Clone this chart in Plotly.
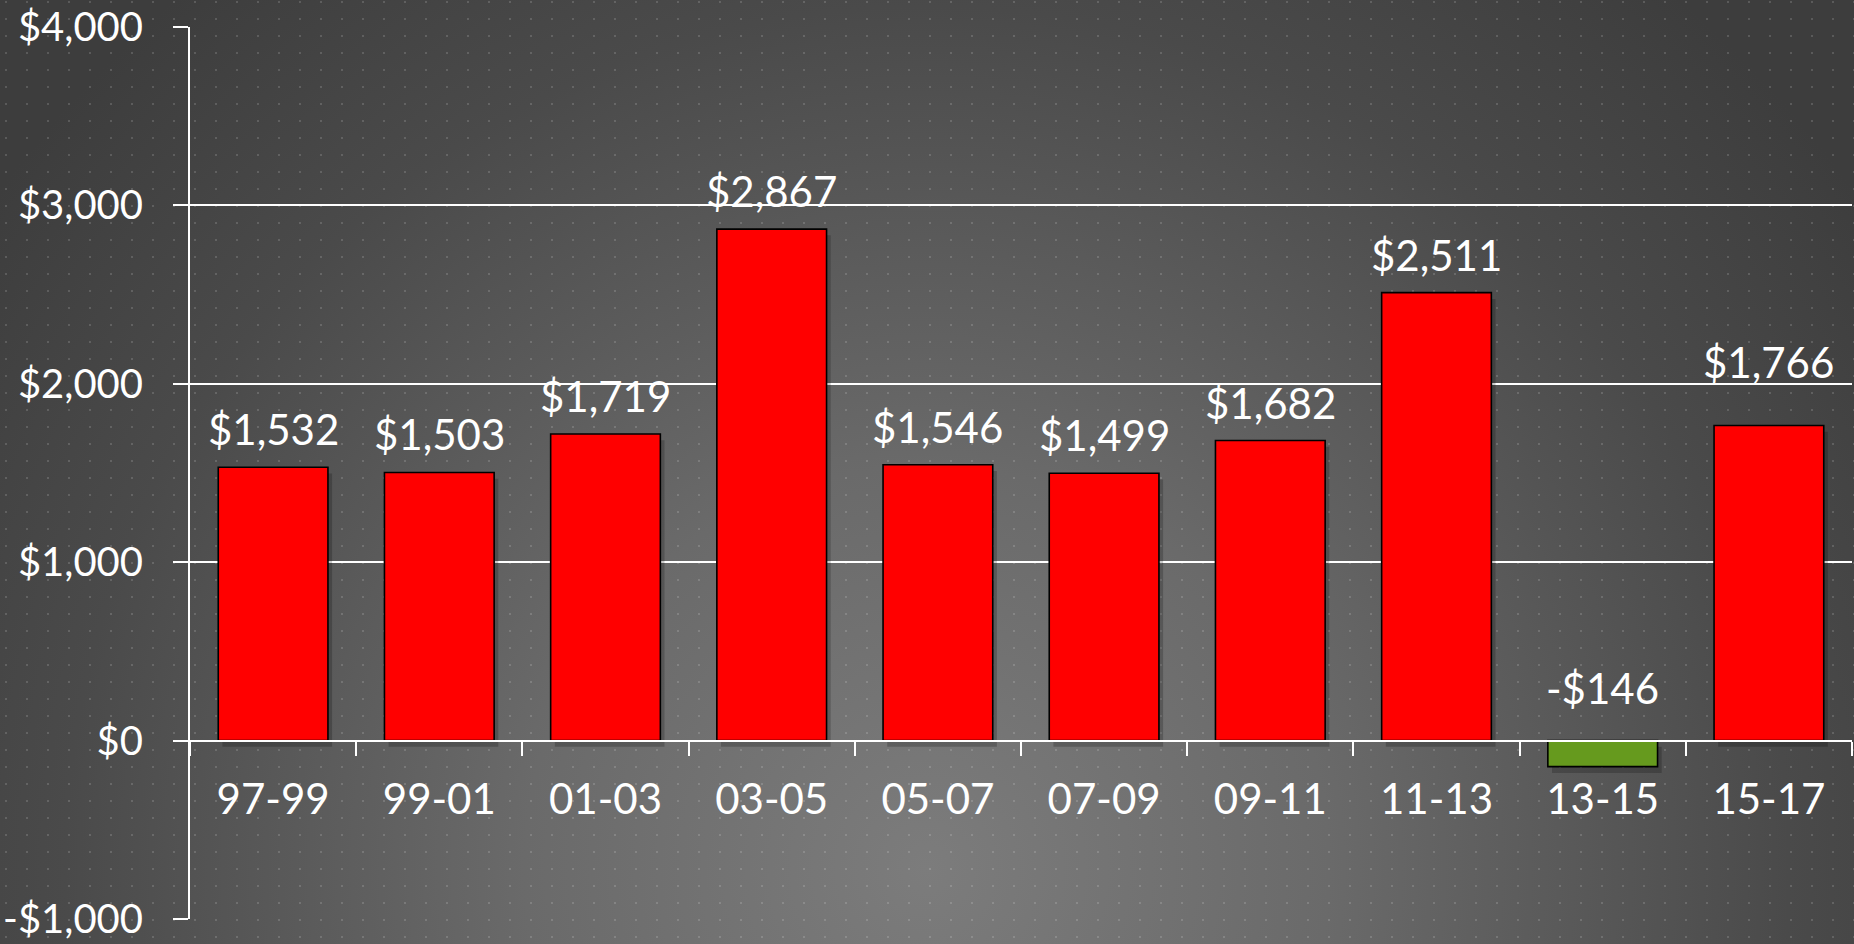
import base64
import plotly.graph_objects as go

# ---- data ----
periods = ["97-99", "99-01", "01-03", "03-05", "05-07", "07-09", "09-11", "11-13", "13-15", "15-17"]
values = [1532, 1503, 1719, 2867, 1546, 1499, 1682, 2511, -146, 1766]
value_labels = ["$1,532", "$1,503", "$1,719", "$2,867", "$1,546", "$1,499", "$1,682", "$2,511", "-$146", "$1,766"]
y_tick_vals = [-1000, 0, 1000, 2000, 3000, 4000]
y_tick_text = ["-$1,000", "$0", "$1,000", "$2,000", "$3,000", "$4,000"]

# ---- style ----
W, H = 1854, 944
ML, MR, MT, MB = 190, 2, 27, 25
FONT = "Gill Sans, Gill Sans MT, Lato, sans-serif"
label_shift = [38, 38, 38, 38, 38, 38, 38, 38, 53, 64]   # px above bar top / zero line
bar_colors = ["#ff0000" if v >= 0 else "#669a1e" for v in values]

svg = f"""<svg xmlns='http://www.w3.org/2000/svg' width='{W}' height='{H}'>
<defs>
<radialGradient id='g' gradientUnits='userSpaceOnUse' cx='{W*0.5}' cy='{H*0.92}' r='{W*0.62}'>
<stop offset='0' stop-color='#7c7c7c'/>
<stop offset='0.35' stop-color='#6a6a6a'/>
<stop offset='0.75' stop-color='#4a4a4a'/>
<stop offset='1' stop-color='#3d3d3d'/>
</radialGradient>
<pattern id='p' x='5' y='1' width='21' height='17' patternUnits='userSpaceOnUse'>
<rect x='0' y='0' width='2' height='2' fill='#ffffff' fill-opacity='0.15'/>
</pattern>
</defs>
<rect width='{W}' height='{H}' fill='url(#g)'/>
<rect width='{W}' height='{H}' fill='url(#p)'/>
</svg>"""
src = "data:image/svg+xml;base64," + base64.b64encode(svg.encode()).decode()

pw, ph = W - ML - MR, H - MT - MB

fig = go.Figure()
# soft drop shadow
fig.add_trace(go.Bar(
    x=periods, y=values, base=[-35] * len(values), width=0.66, offset=-0.33 + 0.025,
    marker=dict(color="rgba(0,0,0,0.2)", line=dict(width=0)),
    hoverinfo="skip", showlegend=False))
fig.add_trace(go.Bar(
    x=periods, y=values, width=0.66, offset=-0.33,
    marker=dict(color=bar_colors, line=dict(color="#000000", width=1.6)),
    showlegend=False))

for p, v, t, s in zip(periods, values, value_labels, label_shift):
    fig.add_annotation(x=p, y=max(v, 0), text=t, showarrow=False,
                       yanchor="middle", xanchor="center", yshift=s,
                       font=dict(family=FONT, size=42, color="#ffffff"))

fig.update_layout(
    width=W, height=H,
    margin=dict(l=ML, r=MR, t=MT, b=MB, autoexpand=False),
    paper_bgcolor="#444444",
    plot_bgcolor="rgba(0,0,0,0)",
    barmode="overlay",
    font=dict(family=FONT, size=42, color="#ffffff"),
    images=[dict(source=src, xref="paper", yref="paper",
                 x=-ML / pw, y=1 + MT / ph, sizex=W / pw, sizey=H / ph,
                 xanchor="left", yanchor="top", sizing="stretch", layer="below")],
    xaxis=dict(
        type="category", anchor="free", position=0.2, automargin=False,
        showline=True, linecolor="#ffffff", linewidth=2,
        ticks="outside", ticklen=14, tickwidth=2, tickcolor="#ffffff",
        tickson="boundaries", showgrid=False,
        tickfont=dict(family=FONT, size=42, color="#ffffff"),
        ticklabelstandoff=22,
    ),
    yaxis=dict(
        range=[-1000, 4000], tickvals=y_tick_vals, ticktext=y_tick_text,
        automargin=False,
        showgrid=True, gridcolor="#ffffff", gridwidth=2,
        zeroline=True, zerolinecolor="#ffffff", zerolinewidth=2,
        showline=True, linecolor="#ffffff", linewidth=2,
        ticks="outside", ticklen=15, tickwidth=2, tickcolor="#ffffff",
        tickfont=dict(family=FONT, size=40, color="#ffffff"),
        ticklabelstandoff=22,
    ),
)

fig.write_html("out.html", config={"displayModeBar": False},
               post_script="document.body.style.margin='0';document.body.style.overflow='hidden';")
